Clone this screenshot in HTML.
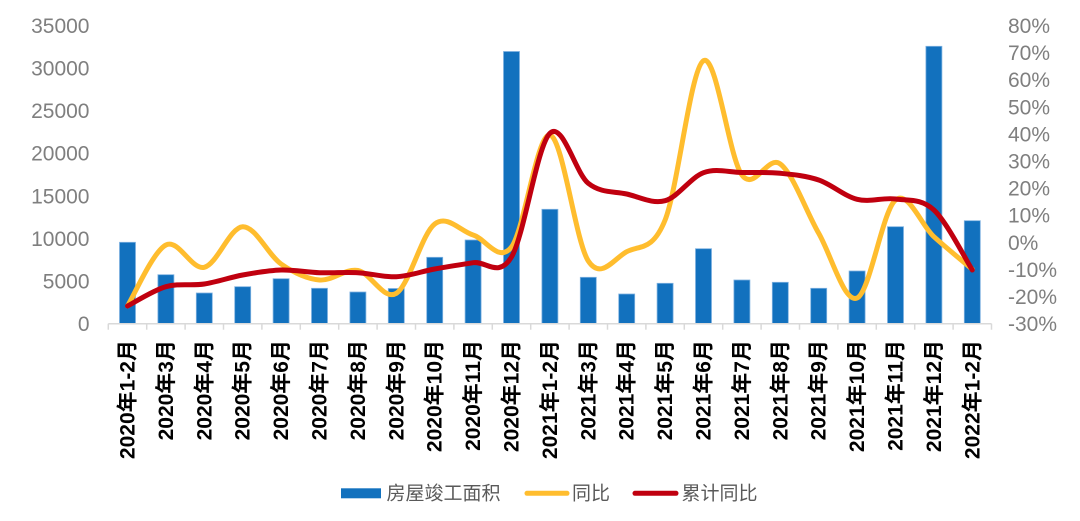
<!DOCTYPE html>
<html><head><meta charset="utf-8">
<style>
html,body{margin:0;padding:0;background:#fff;}
svg{display:block;}
.yl{font-family:"Liberation Sans","Noto Sans CJK SC",sans-serif;font-size:21px;fill:#7f7f7f;}
.xl{font-family:"Liberation Sans","Noto Sans CJK SC",sans-serif;font-size:21px;font-weight:bold;fill:#000;}
.lg{font-family:"Liberation Sans","Noto Sans CJK SC",sans-serif;font-size:19px;fill:#595959;}
</style></head>
<body>
<svg id="c" width="1080" height="521" viewBox="0 0 1080 521" xmlns="http://www.w3.org/2000/svg">
<rect width="1080" height="521" fill="#fff"/>
<!-- left axis labels -->
<g class="yl" text-anchor="end">
<text x="89.5" y="33">35000</text>
<text x="89.5" y="75.6">30000</text>
<text x="89.5" y="118.2">25000</text>
<text x="89.5" y="160.7">20000</text>
<text x="89.5" y="203.3">15000</text>
<text x="89.5" y="245.9">10000</text>
<text x="89.5" y="288.5">5000</text>
<text x="89.5" y="331">0</text>
</g>
<!-- right axis labels -->
<g class="yl" text-anchor="start">
<text x="1008" y="33">80%</text>
<text x="1008" y="60.1">70%</text>
<text x="1008" y="87.2">60%</text>
<text x="1008" y="114.3">50%</text>
<text x="1008" y="141.4">40%</text>
<text x="1008" y="168.5">30%</text>
<text x="1008" y="195.6">20%</text>
<text x="1008" y="222.7">10%</text>
<text x="1008" y="249.8">0%</text>
<text x="1008" y="276.8">-10%</text>
<text x="1008" y="303.9">-20%</text>
<text x="1008" y="331">-30%</text>
</g>
<g id="bars" fill="#1271BE" stroke="#7FB2E0" stroke-width="0.8"></g>
<g id="axis"></g>
<path id="yel" fill="none" stroke="#FFBD2E" stroke-width="5" stroke-linecap="round" stroke-linejoin="round"/>
<path id="red" fill="none" stroke="#C0000F" stroke-width="5" stroke-linecap="round" stroke-linejoin="round"/>
<!-- x labels -->
<g class="xl" text-anchor="end">
<text transform="translate(134.5,340) rotate(-90)">2020年1-2月</text>
<text transform="translate(172.9,340) rotate(-90)">2020年3月</text>
<text transform="translate(211.3,340) rotate(-90)">2020年4月</text>
<text transform="translate(249.7,340) rotate(-90)">2020年5月</text>
<text transform="translate(288.1,340) rotate(-90)">2020年6月</text>
<text transform="translate(326.5,340) rotate(-90)">2020年7月</text>
<text transform="translate(364.9,340) rotate(-90)">2020年8月</text>
<text transform="translate(403.3,340) rotate(-90)">2020年9月</text>
<text transform="translate(441.7,340) rotate(-90)">2020年10月</text>
<text transform="translate(480.1,340) rotate(-90)">2020年11月</text>
<text transform="translate(518.5,340) rotate(-90)">2020年12月</text>
<text transform="translate(556.9,340) rotate(-90)">2021年1-2月</text>
<text transform="translate(595.3,340) rotate(-90)">2021年3月</text>
<text transform="translate(633.7,340) rotate(-90)">2021年4月</text>
<text transform="translate(672.1,340) rotate(-90)">2021年5月</text>
<text transform="translate(710.5,340) rotate(-90)">2021年6月</text>
<text transform="translate(748.9,340) rotate(-90)">2021年7月</text>
<text transform="translate(787.3,340) rotate(-90)">2021年8月</text>
<text transform="translate(825.7,340) rotate(-90)">2021年9月</text>
<text transform="translate(864.1,340) rotate(-90)">2021年10月</text>
<text transform="translate(902.5,340) rotate(-90)">2021年11月</text>
<text transform="translate(940.9,340) rotate(-90)">2021年12月</text>
<text transform="translate(979.3,340) rotate(-90)">2022年1-2月</text>
</g>
<!-- legend -->
<rect x="341" y="488.3" width="40" height="10" fill="#1271BE"/>
<text class="lg" x="386.5" y="499.5">房屋竣工面积</text>
<line x1="527" y1="493.3" x2="567" y2="493.3" stroke="#FFBD2E" stroke-width="5" stroke-linecap="round"/>
<text class="lg" x="572" y="499.5">同比</text>
<line x1="635" y1="493.3" x2="676" y2="493.3" stroke="#C0000F" stroke-width="5" stroke-linecap="round"/>
<text class="lg" x="681.5" y="499.5">累计同比</text>
</svg>
<script>
(function(){
var NS="http://www.w3.org/2000/svg";
var x0=108.3, w=38.4, base=323.7;
function cx(i){return x0+w*(i+0.5);}
var tops=[242.3,274.7,293,286.7,278.7,288.3,292,288.5,257.3,240,51.5,209.3,277.3,294,283.3,248.7,280,282.3,288.3,271,226.7,46.3,220.7];
var bars=document.getElementById('bars');
for(var i=0;i<tops.length;i++){
  var r=document.createElementNS(NS,'rect');
  r.setAttribute('x',(cx(i)-8).toFixed(2));
  r.setAttribute('y',tops[i]);
  r.setAttribute('width',16);
  r.setAttribute('height',(base-tops[i]).toFixed(2));
  bars.appendChild(r);
}
var ax=document.getElementById('axis');
var l=document.createElementNS(NS,'line');
l.setAttribute('x1',x0);l.setAttribute('x2',x0+23*w);l.setAttribute('y1',base);l.setAttribute('y2',base);
l.setAttribute('stroke','#D9D9D9');l.setAttribute('stroke-width','1.5');ax.appendChild(l);
for(var k=0;k<=23;k++){
  var t=document.createElementNS(NS,'line');
  var xx=x0+w*k;
  t.setAttribute('x1',xx);t.setAttribute('x2',xx);t.setAttribute('y1',base);t.setAttribute('y2',base+6);
  t.setAttribute('stroke','#D9D9D9');t.setAttribute('stroke-width','1.5');ax.appendChild(t);
}
function path(ys){
  var p=ys.map(function(y,i){return [cx(i),y];});
  var d='M'+p[0][0].toFixed(2)+','+p[0][1].toFixed(2);
  for(var i=0;i<p.length-1;i++){
    var a=p[i>0?i-1:0],b=p[i],c=p[i+1],e=p[i+2<p.length?i+2:p.length-1];
    var c1x=b[0]+(c[0]-a[0])/6,c1y=b[1]+(c[1]-a[1])/6;
    var c2x=c[0]-(e[0]-b[0])/6,c2y=c[1]-(e[1]-b[1])/6;
    d+=' C'+c1x.toFixed(2)+','+c1y.toFixed(2)+' '+c2x.toFixed(2)+','+c2y.toFixed(2)+' '+c[0].toFixed(2)+','+c[1].toFixed(2);
  }
  return d;
}
var yel=[306,245,267.3,226.7,264,280,270.5,293.3,224,235,247,135,261,251.7,220,60.7,175,164,233.3,298,200,236.7,269.3];
var red=[306,286.7,284,275,270,272.7,272.7,276.7,269,262.7,257,133.3,183.3,194,200.7,172.7,172.5,173.3,180,199.3,199,210,270];
document.getElementById('yel').setAttribute('d',path(yel));
document.getElementById('red').setAttribute('d',path(red));
})();
</script>
</body></html>
